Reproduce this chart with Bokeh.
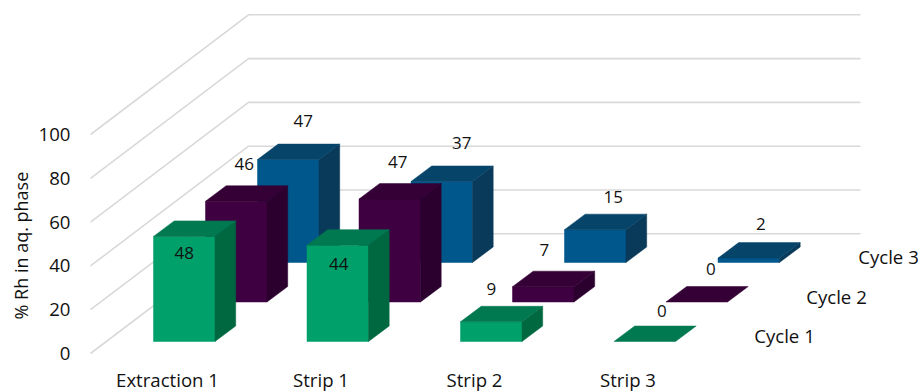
from bokeh.core.properties import value
from bokeh.embed import file_html
from bokeh.models import FixedTicker, Title
from bokeh.plotting import figure
from bokeh.resources import INLINE

# Values
stages = ["Extraction 1", "Strip 1", "Strip 2", "Strip 3"]
cycles = ["Cycle 1", "Cycle 2", "Cycle 3"]
cycle_1 = [48, 44, 9, 0]
cycle_2 = [46, 47, 7, 0]
cycle_3 = [47, 37, 15, 2]
y_ticks = [0, 20, 40, 60, 80, 100]

# Face colours per cycle: front, top, side
palette = [
    ("#00a06a", "#007850", "#006841"),
    ("#3f0042", "#350035", "#2c002e"),
    ("#00578c", "#06446a", "#0a3a5a"),
]

# Oblique projection, expressed in stage units (x) and value units (y)
PX_X = 153.5
PX_Y = 2.19
BAR_OFFSET = -14 / PX_X
BAR_W = 61.5 / PX_X
DEPTH_X = 20.7 / PX_X
DEPTH_Y = 15.5 / PX_Y
ROW_X = 52 / PX_X
ROW_Y = 39.5 / PX_Y
FLOOR_Y = 12 / PX_Y
WALL_X = 158 / PX_X
WALL_Y = 119.7 / PX_Y
GRID_START = (90 - 167) / PX_X
GRID_END = (860 - 167) / PX_X

MARGIN_LEFT = 88
FRAME_BOTTOM = 358
x_start = (MARGIN_LEFT - 167) / PX_X
x_end = (921 - 167) / PX_X
y_start = (353 - FRAME_BOTTOM) / PX_Y
y_end = 353 / PX_Y

FONT = "Open Sans"
TEXT = "#111111"

p = figure(
    width=921,
    height=391,
    frame_width=921 - MARGIN_LEFT,
    frame_height=FRAME_BOTTOM,
    x_range=(x_start, x_end),
    y_range=(y_start, y_end),
    output_backend="svg",
    toolbar_location=None,
    min_border_left=MARGIN_LEFT,
    min_border_right=0,
    min_border_top=0,
    min_border_bottom=391 - FRAME_BOTTOM,
)
p.outline_line_color = None
p.xgrid.visible = False
p.ygrid.visible = False

for axis in (p.xaxis[0], p.yaxis[0]):
    axis.axis_line_color = None
    axis.major_tick_line_color = None
    axis.minor_tick_line_color = None
    axis.major_tick_out = 0
    axis.minor_tick_out = 0
    axis.major_label_text_font = FONT
    axis.major_label_text_font_size = "18.6px"
    axis.major_label_text_color = TEXT

p.xaxis[0].ticker = FixedTicker(ticks=list(range(len(stages))))
p.xaxis[0].major_label_overrides = {i: s for i, s in enumerate(stages)}
p.xaxis[0].major_label_standoff = 8
p.yaxis[0].ticker = FixedTicker(ticks=y_ticks)
p.yaxis[0].major_label_standoff = 18

# Gridlines: up the side wall, then across the back wall
for tick in y_ticks:
    p.line(
        [GRID_START, GRID_START + WALL_X, GRID_END],
        [tick, tick + WALL_Y, tick + WALL_Y],
        line_color="#d9d9d9",
        line_width=1.6,
    )

# Bars, rear row first so the nearer rows overlap them
series = [cycle_1, cycle_2, cycle_3]
for row in reversed(range(len(series))):
    front_c, top_c, side_c = palette[row]
    for i, v in enumerate(series[row]):
        x0 = i + BAR_OFFSET + row * ROW_X
        x1 = x0 + BAR_W
        y0 = FLOOR_Y + row * ROW_Y
        y1 = y0 + v
        if v > 0:
            p.patch([x0, x1, x1, x0], [y0, y0, y1, y1],
                    fill_color=front_c, line_color=front_c, line_width=0.5)
            p.patch([x1, x1 + DEPTH_X, x1 + DEPTH_X, x1],
                    [y0, y0 + DEPTH_Y, y1 + DEPTH_Y, y1],
                    fill_color=side_c, line_color=side_c, line_width=0.5)
        p.patch([x0, x1, x1 + DEPTH_X, x0 + DEPTH_X],
                [y1, y1, y1 + DEPTH_Y, y1 + DEPTH_Y],
                fill_color=top_c, line_color=top_c, line_width=0.5)

# Value labels, offset from the centre of each bar's top front edge
label_dx = [
    [0, 1, 0, 17],
    [8, 8, 1, 14],
    [15, 20, 18, 12],
]
label_dy = [
    [-17, -19, 33, 31],
    [37, 37, 37, 33],
    [39, 38, 33, 34],
]
for row, values in enumerate(series):
    for i, v in enumerate(values):
        cx = i + BAR_OFFSET + row * ROW_X + BAR_W / 2 + label_dx[row][i] / PX_X
        cy = FLOOR_Y + row * ROW_Y + v + label_dy[row][i] / PX_Y
        p.text(
            [cx], [cy], text=[str(v)],
            text_font=value(FONT), text_font_size="17px", text_color=TEXT,
            text_align="center", text_baseline="middle",
        )

# Cycle names along the depth axis
for row, name in enumerate(cycles):
    p.text(
        [(784 - 167) / PX_X + row * ROW_X], [(353 - 335) / PX_Y + row * ROW_Y],
        text=[name],
        text_font=value(FONT), text_font_size="18.6px", text_color=TEXT,
        text_align="center", text_baseline="middle",
    )

# Value-axis caption, placed in the left panel and slid up from the frame's bottom
p.add_layout(Title(
    text="% Rh in aq. phase",
    align="left",
    offset=39,
    standoff=5,
    text_font=FONT, text_font_size="18px", text_font_style="normal", text_color=TEXT,
), "left")

open("out.html", "w").write(file_html(p, INLINE))
